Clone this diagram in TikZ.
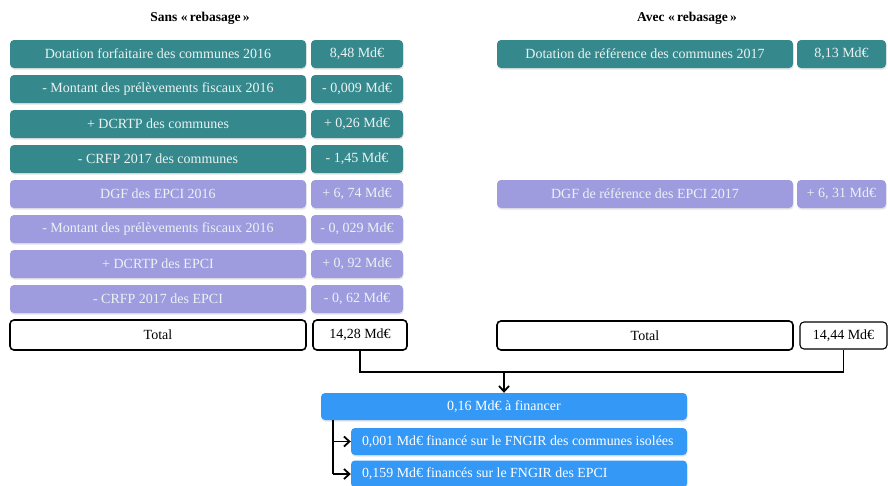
\documentclass[tikz,border=0pt]{standalone}
\usepackage{fontspec}
\setmainfont{Liberation Serif}
\usetikzlibrary{shadows,arrows.meta}

\definecolor{tealbox}{RGB}{53,137,141}
\definecolor{lavbox}{RGB}{158,156,223}
\definecolor{bluebox}{RGB}{52,152,247}
\definecolor{boxtext}{RGB}{236,242,242}

\newcommand{\fundline}[1]{\makebox[314pt][l]{#1}}

\tikzset{
  x=1pt, y=-1pt,
  card/.style={rounded corners=4pt, text=boxtext, font=\fontsize{14}{16}\selectfont,
    minimum height=28pt, inner sep=0pt,
    drop shadow={opacity=0.22, shadow xshift=0.6pt, shadow yshift=-1.6pt}},
  commune/.style={card, fill=tealbox},
  epci/.style={card, fill=lavbox},
  labelw/.style={minimum width=296pt},
  valuew/.style={minimum width=92pt},
  totalbox/.style={draw=black, line width=1.6pt, rounded corners=4pt, fill=white,
    font=\fontsize{14}{16}\selectfont, minimum height=30pt, inner sep=0pt},
  fundbox/.style={card, fill=bluebox, text=white, minimum height=27pt},
  subfund/.style={fundbox, minimum width=336pt, font=\fontsize{13.9}{15}\selectfont},
  heading/.style={font=\bfseries\fontsize{13.5}{15}\selectfont},
  link/.style={draw=black, line width=1.3pt},
  arrowlink/.style={link, -{Straight Barb[length=5.5pt,width=10pt,line width=1.8pt]}}
}

\begin{document}
\begin{tikzpicture}
\useasboundingbox (0,0) rectangle (888,485);

% headings
\node[heading] (hsans) at (200,18) {Sans «\,rebasage\,»};
\node[heading] (havec) at (687,18) {Avec «\,rebasage\,»};

% left column: without rebasing
\node[commune,labelw] (l1) at (158,54)  {Dotation forfaitaire des communes 2016};
\node[commune,valuew] (v1) at (357,54)  {8,48 Md€};
\node[commune,labelw] (l2) at (158,89)  {- Montant des prélèvements fiscaux 2016};
\node[commune,valuew] (v2) at (357,89)  {- 0,009 Md€};
\node[commune,labelw] (l3) at (158,124) {+ DCRTP des communes};
\node[commune,valuew] (v3) at (357,124) {+ 0,26 Md€};
\node[commune,labelw] (l4) at (158,159) {- CRFP 2017 des communes};
\node[commune,valuew] (v4) at (357,159) {- 1,45 Md€};
\node[epci,labelw] (l5) at (158,194) {DGF des EPCI 2016};
\node[epci,valuew] (v5) at (357,194) {+ 6, 74 Md€};
\node[epci,labelw] (l6) at (158,229) {- Montant des prélèvements fiscaux 2016};
\node[epci,valuew] (v6) at (357,229) {- 0, 029 Md€};
\node[epci,labelw] (l7) at (158,264) {+ DCRTP des EPCI};
\node[epci,valuew] (v7) at (357,264) {+ 0, 92 Md€};
\node[epci,labelw] (l8) at (158,299) {- CRFP 2017 des EPCI};
\node[epci,valuew] (v8) at (357,299) {- 0, 62 Md€};
\node[totalbox,minimum width=296pt] (lt) at (158,335) {Total};
\node[totalbox,minimum width=94pt] (vt) at (360,335) {14,28 Md€};

% right column: with rebasing
\node[commune,labelw] (r1) at (645,54) {Dotation de référence des communes 2017};
\node[commune,minimum width=89pt] (w1) at (841.5,54) {8,13 Md€};
\node[epci,labelw] (r5) at (645,194) {DGF de référence des EPCI 2017};
\node[epci,minimum width=89pt] (w5) at (841.5,194) {+ 6, 31 Md€};
\node[totalbox,minimum width=296pt,minimum height=29pt] (rt) at (645,335.5) {Total};
\node[totalbox,line width=1.1pt,minimum width=87pt,minimum height=27pt] (wt) at (843.5,335.5) {14,44 Md€};

% financing boxes
\node[fundbox,minimum width=366pt] (f0) at (504,406.5) {0,16 Md€ à financer};
\node[subfund] (f1) at (519,441.5) {\fundline{0,001 Md€ financé sur le FNGIR des communes isolées}};
\node[subfund] (f2) at (519,474) {\fundline{0,159 Md€ financés sur le FNGIR des EPCI}};

% difference between the two totals
\coordinate (jl) at (vt.south |- 0,372);
\coordinate (jr) at (wt.south |- 0,372);
\coordinate (jm) at (f0.north |- 0,372);
\draw[link] (vt.south) -- (jl) -- (jr) -- (wt.south);
\draw[arrowlink] (jm) -- (f0.north);

% split of the amount to finance
\coordinate (b0) at (333,420);
\draw[link] (b0) -- (b0 |- f2.west);
\draw[arrowlink] (b0 |- f1.west) -- (f1.west);
\draw[arrowlink] (b0 |- f2.west) -- (f2.west);
\end{tikzpicture}
\end{document}
